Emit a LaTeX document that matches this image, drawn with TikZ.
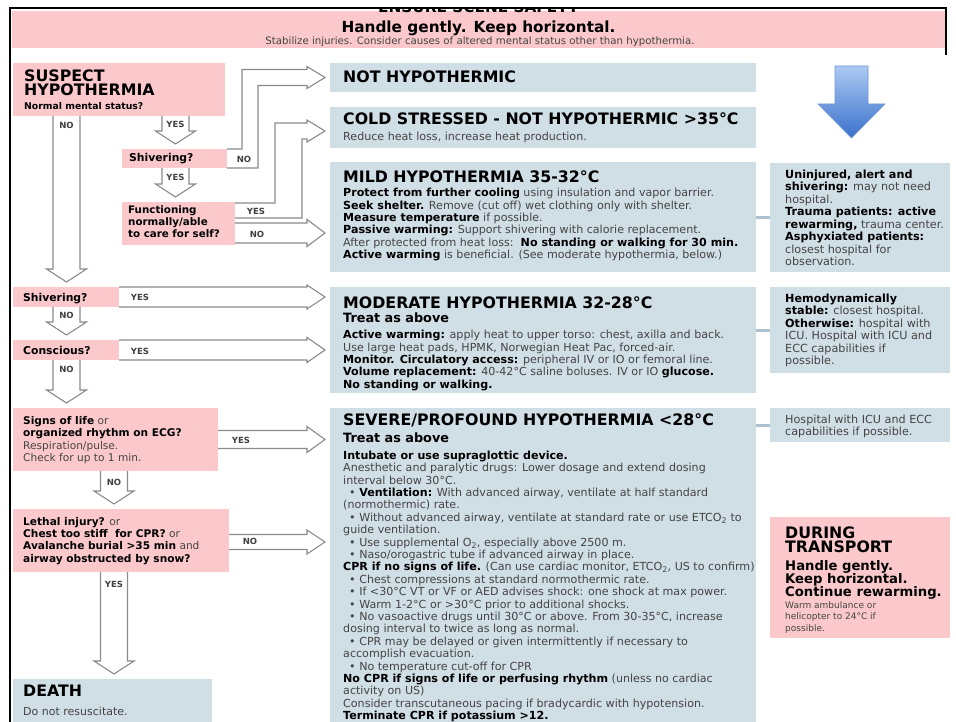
\documentclass[tikz,border=0pt]{standalone}
\usepackage{fontspec}
\setmainfont{DejaVu Sans}
\usetikzlibrary{calc}
\setlength{\lineskiplimit}{-20pt}

\definecolor{pinkfill}{RGB}{251,201,203}
\definecolor{greyfill}{RGB}{208,222,229}
\definecolor{linkgrey}{RGB}{172,194,206}
\definecolor{arrowgrey}{RGB}{138,138,138}
\definecolor{bodygrey}{RGB}{68,68,68}
\definecolor{bluetop}{RGB}{172,202,242}
\definecolor{bluebottom}{RGB}{58,112,204}
\definecolor{blueedge}{RGB}{112,150,212}

\newcommand{\bt}[1]{{\bfseries\color{black}#1}}
\newcommand{\bul}{\hspace*{6pt}•\ }

% hollow arrow straight down from one box to the next
\newcommand{\downblock}[3]{%
  \draw[blockarrow] let \p1=([xshift=#3]#1.south west), \p2=(#2.north) in
    (\x1-13.5,\y1) -- (\x1-13.5,\y2+18) -- (\x1-20,\y2+18) -- (\x1,\y2+5)
    -- (\x1+20,\y2+18) -- (\x1+13.5,\y2+18) -- (\x1+13.5,\y1);}
% hollow arrow to the right: shaft half, head half, shift of centre
\newcommand{\rightblock}[5]{%
  \draw[blockarrow] let \p1=([yshift=#5]#1.east), \p2=(#2.west) in
    (\x1,\y1+#3) -- (\x2-23,\y1+#3) -- (\x2-23,\y1+#4) -- (\x2-5,\y1)
    -- (\x2-23,\y1-#4) -- (\x2-23,\y1-#3) -- (\x1,\y1-#3);}

\tikzset{
  pinkbox/.style={fill=pinkfill, anchor=north west, inner sep=0, outer sep=0},
  greybox/.style={fill=greyfill, anchor=north west, inner sep=0, outer sep=0},
  blockarrow/.style={draw=arrowgrey, fill=white, line width=1.1pt},
  link/.style={draw=linkgrey, line width=3pt},
  heading/.style={font=\bfseries\fontsize{15.8}{17}\selectfont, anchor=base west, inner sep=0},
  subhead/.style={font=\bfseries\fontsize{12.8}{14}\selectfont, anchor=base west, inner sep=0},
  body/.style={font=\fontsize{11.1}{12.4}\selectfont, text=bodygrey, align=left, anchor=north west, inner sep=0},
  side/.style={font=\fontsize{11.2}{12.5}\selectfont, text=bodygrey, align=left, anchor=north west, inner sep=0},
  ask/.style={font=\fontsize{10.6}{12.3}\selectfont, text=bodygrey, align=left, anchor=north west, inner sep=0},
  q/.style={font=\bfseries\fontsize{10.8}{12}\selectfont, anchor=base west, inner sep=0},
  yesno/.style={font=\bfseries\fontsize{8.5}{10}\selectfont, text=black!75, inner sep=0}
}

\begin{document}
\begin{tikzpicture}[x=1pt, y=-1pt]
\useasboundingbox (0,0) rectangle (956,722);

% Banner
\node[pinkbox, minimum width=933, minimum height=37] (banner) at (12,11) {};
\begin{scope}
  \clip (12,9) rectangle (945,48);
  \node[font=\bfseries\fontsize{15.3}{17}\selectfont, anchor=base, inner sep=0] (ensure) at (478.5,13) {ENSURE SCENE SAFETY};
\end{scope}
\node[font=\bfseries\fontsize{15.3}{17}\selectfont, anchor=base, inner sep=0] (handle) at (478.5,32.5) {Handle gently. Keep horizontal.};
\node[font=\fontsize{10.2}{12}\selectfont, text=bodygrey, anchor=base, inner sep=0] (stab) at (480,44.5) {Stabilize injuries. Consider causes of altered mental status other than hypothermia.};

% Questions
\node[pinkbox, minimum width=212, minimum height=53] (sus) at (13,63) {};
\node[heading] (sustitle) at (24,82) {SUSPECT};
\node[heading] (sustitleb) at (24,96) {HYPOTHERMIA};
\node[font=\bfseries\fontsize{9.3}{11}\selectfont, anchor=base west, inner sep=0] (susq) at (24,110) {Normal mental status?};

\node[pinkbox, minimum width=105, minimum height=19] (shiv) at (122,149) {};
\node[q] (shivq) at (129,162) {Shivering?};
\node[pinkbox, minimum width=113, minimum height=43] (func) at (122,202) {};
\node[ask, font=\bfseries\fontsize{10.3}{12}\selectfont, text=black] (funcq) at (128,205) {Functioning\\normally/able\\to care for self?};

\node[pinkbox, minimum width=106, minimum height=20] (shivb) at (13,287) {};
\node[q] (shivbq) at (23,301) {Shivering?};
\node[pinkbox, minimum width=106, minimum height=20] (consc) at (13,340) {};
\node[q] (conscq) at (23,354) {Conscious?};

\node[pinkbox, minimum width=205, minimum height=63] (signs) at (13,408) {};
\node[ask] (signsq) at (23,416.4) {\bt{Signs of life} or\\\bt{organized rhythm on ECG?}\\Respiration/pulse.\\Check for up to 1 min.};
\node[pinkbox, minimum width=216, minimum height=63] (lethal) at (13,509) {};
\node[ask] (lethalq) at (23,516.9) {\bt{Lethal injury?} or\\\bt{Chest too stiff \ for CPR?} or\\\bt{Avalanche burial >35 min} and\\\bt{airway obstructed by snow?}};

\node[greybox, minimum width=199, minimum height=45] (death) at (13,679) {};
\node[heading] (deathtitle) at (23,696) {DEATH};
\node[font=\fontsize{11}{12}\selectfont, text=bodygrey, anchor=base west, inner sep=0] (deathtxt) at (23,715) {Do not resuscitate.};

% Stages
\node[greybox, minimum width=426, minimum height=29] (nothyp) at (330,63) {};
\node[heading] (nothyptitle) at (343,83) {NOT HYPOTHERMIC};

\node[greybox, minimum width=426, minimum height=41] (cold) at (330,107) {};
\node[heading] (coldtitle) at (343,125) {COLD STRESSED - NOT HYPOTHERMIC >35°C};
\node[font=\fontsize{11.1}{12}\selectfont, text=bodygrey, anchor=base west, inner sep=0] (coldtxt) at (343,141) {Reduce heat loss, increase heat production.};

\node[greybox, minimum width=426, minimum height=110] (mild) at (330,162) {};
\node[heading] (mildtitle) at (343,183) {MILD HYPOTHERMIA 35-32°C};
\node[body] (mildtxt) at (343,188.1) {\bt{Protect from further cooling} using insulation and vapor barrier.\\
\bt{Seek shelter.} Remove (cut off) wet clothing only with shelter.\\
\bt{Measure temperature} if possible.\\
\bt{Passive warming:} Support shivering with calorie replacement.\\
After protected from heat loss:\ \ \bt{No standing or walking for 30 min.}\\
\bt{Active warming} is beneficial. (See moderate hypothermia, below.)};

\node[greybox, minimum width=426, minimum height=106] (mod) at (330,287) {};
\node[heading] (modtitle) at (343,308) {MODERATE HYPOTHERMIA 32-28°C};
\node[subhead] (modsub) at (343,322) {Treat as above};
\node[body] (modtxt) at (343,330.1) {\bt{Active warming:} apply heat to upper torso: chest, axilla and back.\\
Use large heat pads, HPMK, Norwegian Heat Pac, forced-air.\\
\bt{Monitor. Circulatory access:} peripheral IV or IO or femoral line.\\
\bt{Volume replacement:} 40-42°C saline boluses. IV or IO \bt{glucose.}\\
\bt{No standing or walking.}};

\node[greybox, minimum width=426, minimum height=320] (sev) at (330,408) {};
\node[heading] (sevtitle) at (343,425) {SEVERE/PROFOUND HYPOTHERMIA <28°C};
\node[subhead] (sevsub) at (343,442) {Treat as above};
\node[body] (sevtxt) at (343,450.6) {\bt{Intubate or use supraglottic device.}\\
Anesthetic and paralytic drugs: Lower dosage and extend dosing\\
interval below 30°C.\\
\bul\bt{Ventilation:} With advanced airway, ventilate at half standard\\
(normothermic) rate.\\
\bul Without advanced airway, ventilate at standard rate or use ETCO\textsubscript{2} to\\
guide ventilation.\\
\bul Use supplemental O\textsubscript{2}, especially above 2500 m.\\
\bul Naso/orogastric tube if advanced airway in place.\\
\bt{CPR if no signs of life.} (Can use cardiac monitor, ETCO\textsubscript{2}, US to confirm)\\
\bul Chest compressions at standard normothermic rate.\\
\bul If <30°C VT or VF or AED advises shock: one shock at max power.\\
\bul Warm 1-2°C or >30°C prior to additional shocks.\\
\bul No vasoactive drugs until 30°C or above. From 30-35°C, increase\\
dosing interval to twice as long as normal.\\
\bul CPR may be delayed or given intermittently if necessary to\\
accomplish evacuation.\\
\bul No temperature cut-off for CPR\\
\bt{No CPR if signs of life or perfusing rhythm} (unless no cardiac\\
activity on US)\\
Consider transcutaneous pacing if bradycardic with hypotension.\\
\bt{Terminate CPR if potassium >12.}};

% Transport side
\path[top color=bluetop, bottom color=bluebottom, draw=blueedge, line width=0.6pt]
  (835,66) -- (868,66) -- (868,104) -- (885,104) -- (851.5,138) -- (818,104) -- (835,104) -- cycle;

\node[greybox, minimum width=180, minimum height=109] (uninj) at (770,163) {};
\node[side] (uninjtxt) at (785,169.5) {\bt{Uninjured, alert and}\\
\bt{shivering:} may not need\\
hospital.\\
\bt{Trauma patients: active}\\
\bt{rewarming,} trauma center.\\
\bt{Asphyxiated patients:}\\
closest hospital for\\
observation.};

\node[greybox, minimum width=180, minimum height=86] (hemo) at (770,287) {};
\node[side] (hemotxt) at (785,293.5) {\bt{Hemodynamically}\\
\bt{stable:} closest hospital.\\
\bt{Otherwise:} hospital with\\
ICU. Hospital with ICU and\\
ECC capabilities if\\
possible.};

\node[greybox, minimum width=180, minimum height=34] (hosp) at (770,408) {};
\node[side] (hosptxt) at (785,414.5) {Hospital with ICU and ECC\\capabilities if possible.};

\node[pinkbox, minimum width=180, minimum height=121] (trans) at (770,517) {};
\node[heading] (transtitle) at (785,538) {DURING};
\node[heading] (transtitleb) at (785,552) {TRANSPORT};
\node[font=\bfseries\fontsize{13.2}{13}\selectfont, align=left, anchor=north west, inner sep=0] (transbold) at (785,560) {Handle gently.\\Keep horizontal.\\Continue rewarming.};
\node[font=\fontsize{9}{11.7}\selectfont, text=bodygrey, align=left, anchor=north west, inner sep=0] (transtxt) at (785,601.2) {Warm ambulance or\\helicopter to 24°C if\\possible.};

\draw[link] (mild.east |- uninj.west) -- (uninj.west);
\draw[link] (mod.east |- hemo.west) -- (hemo.west);
\draw[link] (sev.east |- hosp.west) -- (hosp.west);

% Hollow arrows
\downblock{sus}{shivb}{53.5}
\downblock{sus}{shiv}{162.5}
\downblock{shiv}{func}{53.5}
\downblock{shivb}{consc}{53.5}
\downblock{consc}{signs}{53.5}
\downblock{signs}{lethal}{101}
\downblock{lethal}{death}{101}
\rightblock{func}{mild}{10}{13.5}{-9.5}
\rightblock{shivb}{mod}{10}{12}{0}
\rightblock{consc}{mod}{10}{12.5}{0}
\rightblock{signs}{sev}{9}{13}{0}
\rightblock{lethal}{sev}{7.5}{12}{-1.5}
\draw[blockarrow] let \p1=(shiv.north east), \p2=(shiv.south east), \p3=(nothyp.west) in
  (\x1,\y1) -- (\x1+15,\y1) -- (\x1+15,\y3+8) -- (\x3-23,\y3+8) -- (\x3-23,\y3+11) -- (\x3-5,\y3)
  -- (\x3-23,\y3-11) -- (\x3-23,\y3-8) -- (\x1+31,\y3-8) -- (\x1+31,\y2) -- (\x2,\y2);
\draw[blockarrow] let \p1=(func.north east), \p2=(cold.west) in
  (\x1,\y1-1) -- (\x1+40,\y1-1) -- (\x1+40,\y2+4.5) -- (\x2-23,\y2+4.5) -- (\x2-23,\y2+7.5) -- (\x2-5,\y2-3.5)
  -- (\x2-23,\y2-14.5) -- (\x2-23,\y2-11.5) -- (\x1+67,\y2-11.5) -- (\x1+67,\y1-16) -- (\x1,\y1-16);

\node[yesno] (no1) at (66.5,125) {NO};
\node[yesno] (yes1) at (175.5,124) {YES};
\node[yesno] (no2) at (244,159) {NO};
\node[yesno] (yes2) at (175.5,177) {YES};
\node[yesno] (yes3) at (256,211) {YES};
\node[yesno] (no3) at (257,234) {NO};
\node[yesno] (yes4) at (140,297) {YES};
\node[yesno] (no4) at (66.5,315) {NO};
\node[yesno] (yes5) at (140,351) {YES};
\node[yesno] (no5) at (66.5,369) {NO};
\node[yesno] (yes6) at (241,440) {YES};
\node[yesno] (no6) at (114,482) {NO};
\node[yesno] (no7) at (250,541) {NO};
\node[yesno] (yes7) at (114,584) {YES};

% Frame
\draw[line width=2.5pt] (10,722) -- (10,8) -- (946,8) -- (946,55);
\end{tikzpicture}
\end{document}
